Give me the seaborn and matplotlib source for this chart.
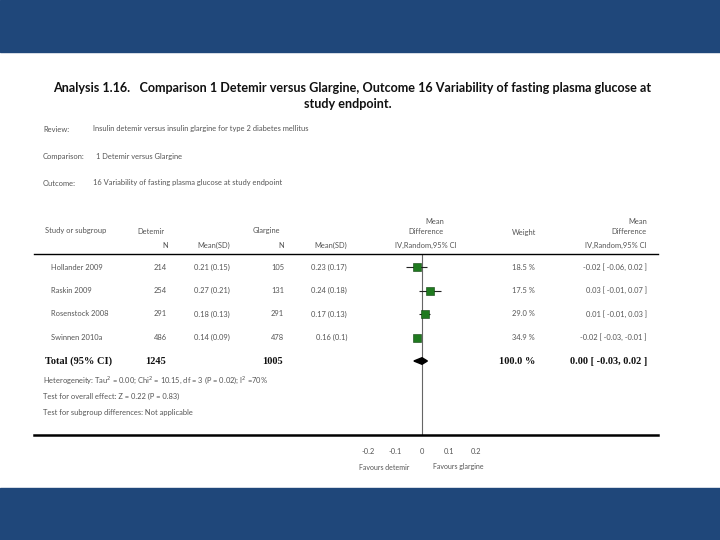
import matplotlib
matplotlib.use("Agg")
import matplotlib.pyplot as plt
import matplotlib.transforms as mtransforms
from matplotlib.patches import Rectangle
import seaborn as sns
import pandas as pd

# donnees
studies = ['Hollander 2009', 'Raskin 2009', 'Rosenstock 2008', 'Swinnen 2010a']
n_det = [214, 254, 291, 486]
mean_det = [0.21, 0.27, 0.18, 0.14]
sd_det = [0.15, 0.21, 0.13, 0.09]
n_gla = [105, 131, 291, 478]
mean_gla = [0.23, 0.24, 0.17, 0.16]
sd_gla = [0.17, 0.18, 0.13, 0.1]
md = [-0.02, 0.03, 0.01, -0.02]
ci_lo = [-0.06, -0.01, -0.01, -0.03]
ci_hi = [0.02, 0.07, 0.03, -0.01]
weights = [18.5, 17.5, 29.0, 34.9]
total_n = [1245, 1005]
total_weight = 100.0
total_md = [0.00, -0.03, 0.02]  # estimate, low, high
ticks = [-0.2, -0.1, 0, 0.1, 0.2]
tick_labels = ['-0.2', '-0.1', '0', '0.1', '0.2']

df = pd.DataFrame({'study': studies, 'md': md, 'row': range(len(studies))})

sns.set_theme(style='white')
plt.rcParams['font.family'] = ['Lato', 'DejaVu Sans']

W, H = 720, 540
fig = plt.figure(figsize=(7.2, 5.4), dpi=100)
fig.patch.set_facecolor('white')

# bandeaux bleus
blue = '#1F477A'
fig.patches.append(Rectangle((0, 1 - 52 / H), 1, 52 / H, transform=fig.transFigure, color=blue, zorder=0))
fig.patches.append(Rectangle((0, 0), 1, 52 / H, transform=fig.transFigure, color=blue, zorder=0))

def ftxt(x, y, s, **kw):
    kw.setdefault('va', 'center')
    fig.text(x / W, 1 - y / H, s, **kw)

# titre
ftxt(352, 88, 'Analysis 1.16.   Comparison 1 Detemir versus Glargine, Outcome 16 Variability of fasting plasma glucose at',
     ha='center', fontsize=9.1, fontweight='bold', color='#111')
ftxt(348, 104, 'study endpoint.', ha='center', fontsize=9.1, fontweight='bold', color='#111')

small = dict(fontsize=5.4, color='#555')
ftxt(43, 129, 'Review:', **small)
ftxt(93, 129, 'Insulin detemir versus insulin glargine for type 2 diabetes mellitus', **small)
ftxt(43, 157, 'Comparison:', **small)
ftxt(96, 157, '1 Detemir versus Glargine', **small)
ftxt(43, 183, 'Outcome:', **small)
ftxt(93, 183, '16 Variability of fasting plasma glucose at study endpoint', **small)

# axe du forest plot
x0 = 422.0
unit = 270.0  # pixels par unite
left_px, right_px, top_px, bot_px = 34, 658, 254, 435
row0, step = 267.0, 23.5
ax = fig.add_axes([left_px / W, 1 - bot_px / H, (right_px - left_px) / W, (bot_px - top_px) / H])
ax.set_xlim((left_px - x0) / unit, (right_px - x0) / unit)
ax.set_ylim((bot_px - row0) / step, (top_px - row0) / step)
ax.patch.set_alpha(0)

ax.axvline(0, color='#666', lw=0.8, zorder=1)
ax.hlines(df['row'], ci_lo, ci_hi, color='#222', lw=0.8, zorder=2)
sns.scatterplot(data=df, x='md', y='row', marker='s', s=28, color='#1f7a1f',
                edgecolor='#0d3d0d', linewidth=0.4, ax=ax, zorder=3, legend=False)

t_row = len(studies)
est, lo, hi = total_md
ax.fill([lo, est, hi, est], [t_row, t_row - 0.14, t_row, t_row + 0.14], color='black', zorder=3)

ax.set_xticks(ticks)
ax.set_xticklabels(tick_labels)
ax.set_yticks([])
ax.set_xlabel('')
ax.set_ylabel('')
ax.tick_params(axis='x', direction='in', length=4, width=0.8, pad=9, labelsize=5.4, labelcolor='#555', colors='black')
for side in ['left', 'right']:
    ax.spines[side].set_visible(False)
ax.spines['bottom'].set_linewidth(1.8)
ax.spines['top'].set_linewidth(1.0)
ax.spines['bottom'].set_color('black')
ax.spines['top'].set_color('black')

# en-tetes
ftxt(444, 221, 'Mean', ha='right', **small)
ftxt(647, 221, 'Mean', ha='right', **small)
ftxt(45, 231, 'Study or subgroup', **small)
ftxt(137, 231, 'Detemir', **small)
ftxt(253, 231, 'Glargine', **small)
ftxt(444, 232, 'Difference', ha='right', **small)
ftxt(536, 232, 'Weight', ha='right', **small)
ftxt(647, 232, 'Difference', ha='right', **small)
ftxt(168, 245, 'N', ha='right', **small)
ftxt(230, 245, 'Mean(SD)', ha='right', **small)
ftxt(284, 245, 'N', ha='right', **small)
ftxt(347, 245, 'Mean(SD)', ha='right', **small)
ftxt(426, 245, 'IV,Random,95% CI', ha='center', **small)
ftxt(647, 245, 'IV,Random,95% CI', ha='right', **small)

# lignes du tableau
trans = mtransforms.blended_transform_factory(fig.transFigure, ax.transData)
def rtxt(x, row, s, **kw):
    ax.text(x / W, row, s, transform=trans, va='center', **kw)

for i, name in enumerate(studies):
    rtxt(51, i, name, **small)
    rtxt(167, i, f'{n_det[i]}', ha='right', **small)
    rtxt(230, i, f'{mean_det[i]:g} ({sd_det[i]:g})', ha='right', **small)
    rtxt(284, i, f'{n_gla[i]}', ha='right', **small)
    rtxt(347, i, f'{mean_gla[i]:g} ({sd_gla[i]:g})', ha='right', **small)
    rtxt(535, i, f'{weights[i]:.1f} %', ha='right', **small)
    rtxt(647, i, f'{md[i]:.2f} [ {ci_lo[i]:.2f}, {ci_hi[i]:.2f} ]', ha='right', **small)

bold = dict(fontsize=7.5, fontweight='bold', color='#111', family='Liberation Serif')
rtxt(45, t_row, 'Total (95% CI)', **bold)
rtxt(166, t_row, f'{total_n[0]}', ha='right', **bold)
rtxt(283, t_row, f'{total_n[1]}', ha='right', **bold)
rtxt(535, t_row, f'{total_weight:.1f} %', ha='right', **bold)
rtxt(647, t_row, f'{est:.2f} [ {lo:.2f}, {hi:.2f} ]', ha='right', **bold)

ftxt(43, 380, 'Heterogeneity: Tau$^2$ = 0.00; Chi$^2$ = 10.15, df = 3 (P = 0.02); I$^2$ =70%', **small)
ftxt(43, 396, 'Test for overall effect: Z = 0.22 (P = 0.83)', **small)
ftxt(43, 412, 'Test for subgroup differences: Not applicable', **small)

# favours
transx = mtransforms.blended_transform_factory(ax.transData, fig.transFigure)
ax.text(-0.14, 1 - 467 / H, 'Favours detemir', transform=transx, ha='center', va='center', fontsize=5, color='#555')
ax.text(0.135, 1 - 467 / H, 'Favours glargine', transform=transx, ha='center', va='center', fontsize=5, color='#555')

fig.savefig('out.png', dpi=100)
